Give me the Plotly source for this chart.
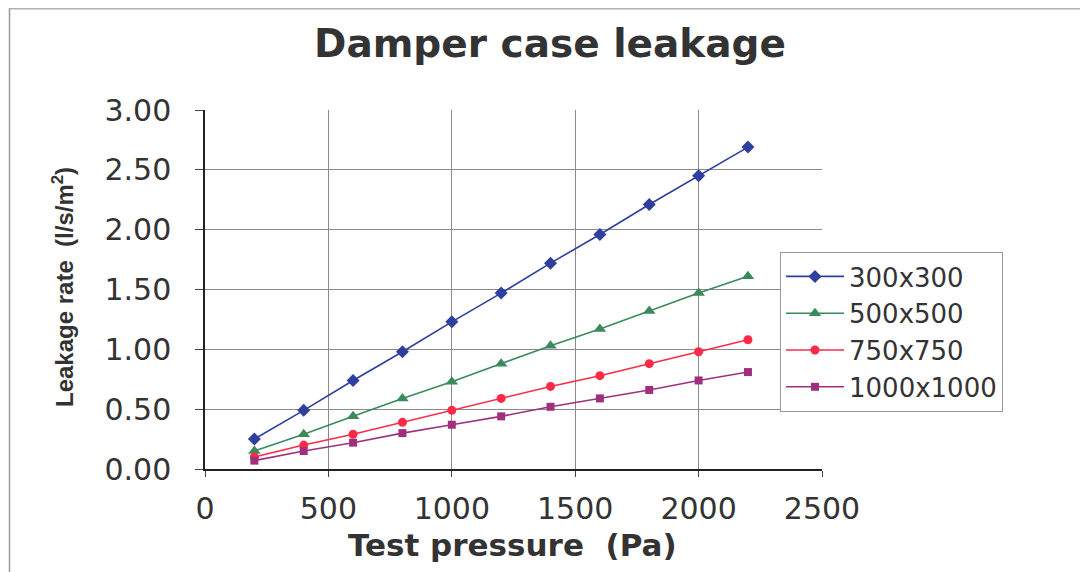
import plotly.graph_objects as go

pressure = [200, 400, 600, 800, 1000, 1200, 1400, 1600, 1800, 2000, 2200]
series_names = ["300x300", "500x500", "750x750", "1000x1000"]
s300 = [0.25, 0.49, 0.74, 0.98, 1.23, 1.47, 1.72, 1.96, 2.21, 2.45, 2.69]
s500 = [0.15, 0.29, 0.44, 0.59, 0.73, 0.88, 1.03, 1.17, 1.32, 1.47, 1.61]
s750 = [0.10, 0.20, 0.29, 0.39, 0.49, 0.59, 0.69, 0.78, 0.88, 0.98, 1.08]
s1000 = [0.07, 0.15, 0.22, 0.30, 0.37, 0.44, 0.52, 0.59, 0.66, 0.74, 0.81]
y_ticks = [0, 0.5, 1.0, 1.5, 2.0, 2.5, 3.0]
x_ticks = [0, 500, 1000, 1500, 2000, 2500]

styles = [
    ("#2E3F9E", "diamond", 10),
    ("#3A8A5C", "triangle-up", 11),
    ("#FF2A48", "circle", 9),
    ("#A0307E", "square", 8),
]

# page has an 8px body margin, so the figure is drawn from (8, 8)
OFF = 8
W, H = 1088 - OFF, 572 - OFF
PL, PR, PT, PB = 205, 822, 110, 469  # plot-area edges in screen pixels
L, R, T, B = PL - OFF, W - (PR - OFF), PT - OFF, H - (PB - OFF)
pw, ph = W - L - R, H - T - B


def px(xs):
    return (xs - PL) / pw


def py(ys):
    return (PB - ys) / ph


fig = go.Figure()
for name, vals, (col, sym, sz) in zip(series_names, [s300, s500, s750, s1000], styles):
    fig.add_trace(go.Scatter(
        x=pressure, y=vals, name=name, mode="lines+markers",
        line=dict(color=col, width=1.6),
        marker=dict(color=col, symbol=sym, size=sz),
    ))

txt = "#333333"
fig.update_layout(
    width=W, height=H,
    paper_bgcolor="white", plot_bgcolor="white",
    margin=dict(l=L, r=R, t=T, b=B, autoexpand=False),
    title=dict(text="<b>Damper case leakage</b>",
               x=(550 - OFF) / W, xref="container", xanchor="center",
               y=1 - (43 - OFF) / H, yref="container", yanchor="middle",
               font=dict(family="DejaVu Sans", size=39, color=txt)),
    font=dict(family="DejaVu Sans", color=txt),
    legend=dict(x=px(780), y=py(252), xanchor="left", yanchor="top",
                bgcolor="white", bordercolor="#999999", borderwidth=1,
                font=dict(family="DejaVu Sans", size=26, color=txt),
                tracegroupgap=0, itemwidth=58),
    showlegend=True,
    shapes=[
        dict(type="line", xref="paper", yref="paper", x0=px(9.5), x1=px(9.5),
             y0=py(OFF), y1=py(572), line=dict(color="#9A9A9A", width=1.5)),
        dict(type="line", xref="paper", yref="paper", x0=px(9.5), x1=px(1088),
             y0=py(OFF + 0.8), y1=py(OFF + 0.8), line=dict(color="#B0B0B0", width=1.5)),
    ],
    annotations=[
        dict(text="<b>Leakage rate  (l/s/m<sup>2</sup>)</b>", xref="paper", yref="paper",
             x=px(63), y=py(287), xanchor="center", yanchor="middle", textangle=-90,
             showarrow=False,
             font=dict(family="Liberation Sans Narrow, Liberation Sans", size=24, color=txt)),
        dict(text="<b>Test pressure  (Pa)</b>", xref="paper", yref="paper",
             x=px(512), y=py(545), xanchor="center", yanchor="middle",
             showarrow=False,
             font=dict(family="DejaVu Sans", size=31, color=txt)),
    ],
)
fig.update_xaxes(
    range=[0, 2500], tickvals=x_ticks, ticktext=[str(v) for v in x_ticks],
    showgrid=True, gridcolor="#8A8A8A", gridwidth=1,
    showline=True, linecolor="#222222", linewidth=1.5, mirror=False,
    ticks="outside", ticklen=6, tickcolor="#444444",
    tickfont=dict(family="DejaVu Sans", size=30, color=txt),
    ticklabelstandoff=6,
    zeroline=False, automargin=False,
)
fig.update_yaxes(
    range=[0, 3.0], tickvals=y_ticks, ticktext=[f"{v:.2f}" for v in y_ticks],
    showgrid=True, gridcolor="#8A8A8A", gridwidth=1,
    showline=True, linecolor="#222222", linewidth=1.5,
    ticks="outside", ticklen=8, tickcolor="#444444",
    tickfont=dict(family="DejaVu Sans", size=30, color=txt),
    ticklabelstandoff=18,
    zeroline=False, automargin=False,
)

fig.write_html("out.html")
